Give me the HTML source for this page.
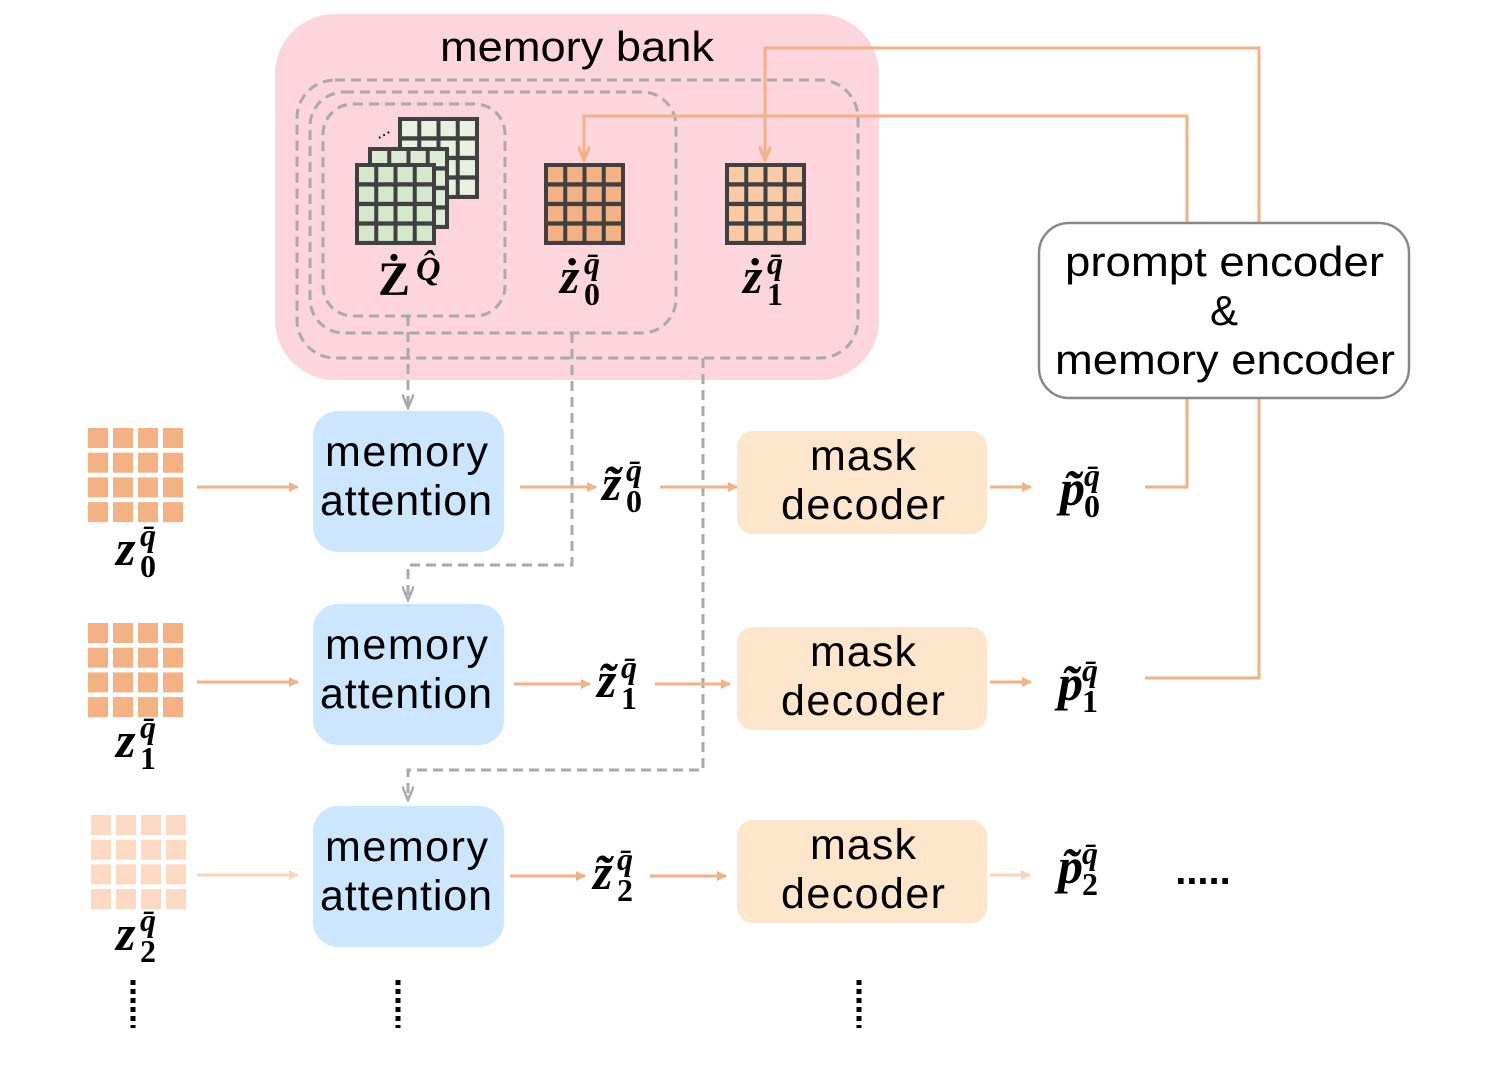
<!DOCTYPE html>
<html><head><meta charset="utf-8"><style>
html,body{margin:0;padding:0;background:#fff;}
svg{display:block;}
.t{font-family:"Liberation Sans",sans-serif;fill:#000;}
.m{font-family:"Liberation Serif",serif;font-weight:bold;font-style:italic;fill:#000;}
.s{font-family:"Liberation Serif",serif;font-weight:bold;fill:#000;}
</style></head><body>
<svg id="sv" width="1495" height="1079" viewBox="0 0 1495 1079" xmlns="http://www.w3.org/2000/svg">
<defs>
<marker id="ao" markerWidth="10" markerHeight="10" refX="9" refY="5" orient="auto" markerUnits="userSpaceOnUse"><path d="M0,0 L10,5 L0,10 z" fill="#f4b183"/></marker>
<marker id="aol" markerWidth="10" markerHeight="10" refX="9" refY="5" orient="auto" markerUnits="userSpaceOnUse"><path d="M0,0 L10,5 L0,10 z" fill="#f9d5bd"/></marker>
<marker id="av" markerWidth="16" markerHeight="12" refX="14" refY="6" orient="auto" markerUnits="userSpaceOnUse"><path d="M0,0 L14,6 L0,12" fill="none" stroke="#f4b183" stroke-width="3"/></marker>
<marker id="ag" markerWidth="16" markerHeight="12" refX="14" refY="6" orient="auto" markerUnits="userSpaceOnUse"><path d="M0,0 L14,6 L0,12" fill="none" stroke="#aaa" stroke-width="2.5"/></marker>
</defs>
<rect x="275" y="14" width="604" height="366" rx="60" fill="#fdd5dc"/>
<text class="t" x="440" y="61" font-size="42" textLength="274" lengthAdjust="spacingAndGlyphs">memory bank</text>
<g fill="none" stroke="#aaa" stroke-width="3" stroke-dasharray="10,6">
<rect x="297" y="80" width="561" height="278" rx="38"/>
<rect x="310" y="92" width="366" height="241" rx="34"/>
<rect x="323" y="104" width="182" height="212" rx="30"/>
<path d="M408,316 V408" marker-end="url(#ag)"/>
<path d="M572,333 V565 H408 V600" marker-end="url(#ag)"/>
<path d="M703,358 V770 H408 V800" marker-end="url(#ag)"/>
</g>
<g id="grids"></g>
<text class="t" x="376" y="138" font-size="18" transform="rotate(-30 380 135)">...</text>
<text class="s" x="378" y="295" font-size="48">Ż</text><text class="m" x="416" y="280" font-size="34">Q̂</text>
<g id="lbl"></g>
<g fill="none" stroke="#f4b183" stroke-width="3">
<path d="M1259,222 V48 H765 V160" marker-end="url(#av)"/>
<path d="M1187,222 V116 H584 V160" marker-end="url(#av)"/>
<path d="M1187,398 V487 H1145"/>
<path d="M1259,398 V678 H1145"/>
</g>
<rect x="1039" y="223" width="370" height="175" rx="30" fill="#fff" stroke="#888" stroke-width="2.5"/>
<text class="t" x="1065" y="276" font-size="42" textLength="319" lengthAdjust="spacingAndGlyphs">prompt encoder</text>
<text class="t" x="1224" y="325" font-size="42" text-anchor="middle">&amp;</text>
<text class="t" x="1055" y="374" font-size="42" textLength="340" lengthAdjust="spacingAndGlyphs">memory encoder</text>
<g fill="#cce6ff">
<rect x="313" y="411" width="191" height="141" rx="25"/>
<rect x="313" y="604" width="191" height="141" rx="25"/>
<rect x="313" y="806" width="191" height="141" rx="25"/>
</g>
<g fill="#fde6cc">
<rect x="737" y="431" width="250" height="103" rx="16"/>
<rect x="737" y="627" width="250" height="103" rx="16"/>
<rect x="737" y="820" width="250" height="103" rx="16"/>
</g>
<g class="t" font-size="43" lengthAdjust="spacingAndGlyphs">
<text x="325" y="466" textLength="163">memory</text><text x="320" y="515" textLength="172">attention</text>
<text x="325" y="659" textLength="163">memory</text><text x="320" y="708" textLength="172">attention</text>
<text x="325" y="861" textLength="163">memory</text><text x="320" y="910" textLength="172">attention</text>
<text x="810" y="470" textLength="106">mask</text><text x="781" y="519" textLength="164">decoder</text>
<text x="810" y="666" textLength="106">mask</text><text x="781" y="715" textLength="164">decoder</text>
<text x="810" y="859" textLength="106">mask</text><text x="781" y="908" textLength="164">decoder</text>
</g>
<g stroke="#f4b183" stroke-width="3">
<path d="M197,487 H298" marker-end="url(#ao)"/>
<path d="M520,487 H596" marker-end="url(#ao)"/>
<path d="M660,487 H737" marker-end="url(#ao)"/>
<path d="M990,487 H1031" marker-end="url(#ao)"/>
<path d="M197,682 H298" marker-end="url(#ao)"/>
<path d="M514,684 H590" marker-end="url(#ao)"/>
<path d="M655,684 H730" marker-end="url(#ao)"/>
<path d="M990,682 H1031" marker-end="url(#ao)"/>
<path d="M510,876 H585" marker-end="url(#ao)"/>
<path d="M650,876 H726" marker-end="url(#ao)"/>
</g>
<g stroke="#f9d5bd" stroke-width="3">
<path d="M197,875 H298" marker-end="url(#aol)"/>
<path d="M990,875 H1030" marker-end="url(#aol)"/>
</g>
<text class="t" x="1203" y="884" font-size="40" text-anchor="middle" font-weight="bold">.....</text>
<g stroke="#000" stroke-width="5" stroke-dasharray="5,4">
<path d="M133,980 V1028"/><path d="M398,980 V1028"/><path d="M859,980 V1028"/>
</g>
</svg>
<script>
var NS="http://www.w3.org/2000/svg",g=document.getElementById('grids'),L=document.getElementById('lbl');
function R(p,x,y,w,h,f){var r=document.createElementNS(NS,'rect');r.setAttribute('x',x);r.setAttribute('y',y);r.setAttribute('width',w);r.setAttribute('height',h);r.setAttribute('fill',f);p.appendChild(r);}
function grid(x,y,f){R(g,x,y,81,82,'#404040');var c=(81-20)/4;for(var i=0;i<4;i++)for(var j=0;j<4;j++)R(g,x+4+i*(c+4),y+4+j*(c+4.3),c,c,f);}
grid(398,117,'#e6f2e0');grid(368,147,'#dcecd4');grid(355,163,'#d5e8cc');
grid(544,163,'#f4b183');grid(725,163,'#f8caa5');
function plain(x,y,f){var c=20,gp=5;for(var i=0;i<4;i++)for(var j=0;j<4;j++)R(g,x+i*(c+gp),y+j*(c+4.7),c,c,f);}
plain(88,428,'#f4b183');plain(88,623,'#f4b183');plain(91,815,'#fbd9c3');
function T(cls,x,y,s,t){var e=document.createElementNS(NS,'text');e.setAttribute('class',cls);e.setAttribute('x',x);e.setAttribute('y',y);e.setAttribute('font-size',s);e.textContent=t;L.appendChild(e);}
function lab(b,x,y,sub){T('m',x,y,50,b);T('m',x+24,y-19,32,'q̄');T('s',x+24,y+12,32,sub);}
lab('ż',560,293,'0');lab('ż',743,293,'1');
lab('z',116,565,'0');lab('z',116,757,'1');lab('z',116,950,'2');
lab('z̃',602,500,'0');lab('z̃',597,697,'1');lab('z̃',593,889,'2');
lab('p̃',1060,505,'0');lab('p̃',1058,700,'1');lab('p̃',1058,883,'2');
</script>
</body></html>
